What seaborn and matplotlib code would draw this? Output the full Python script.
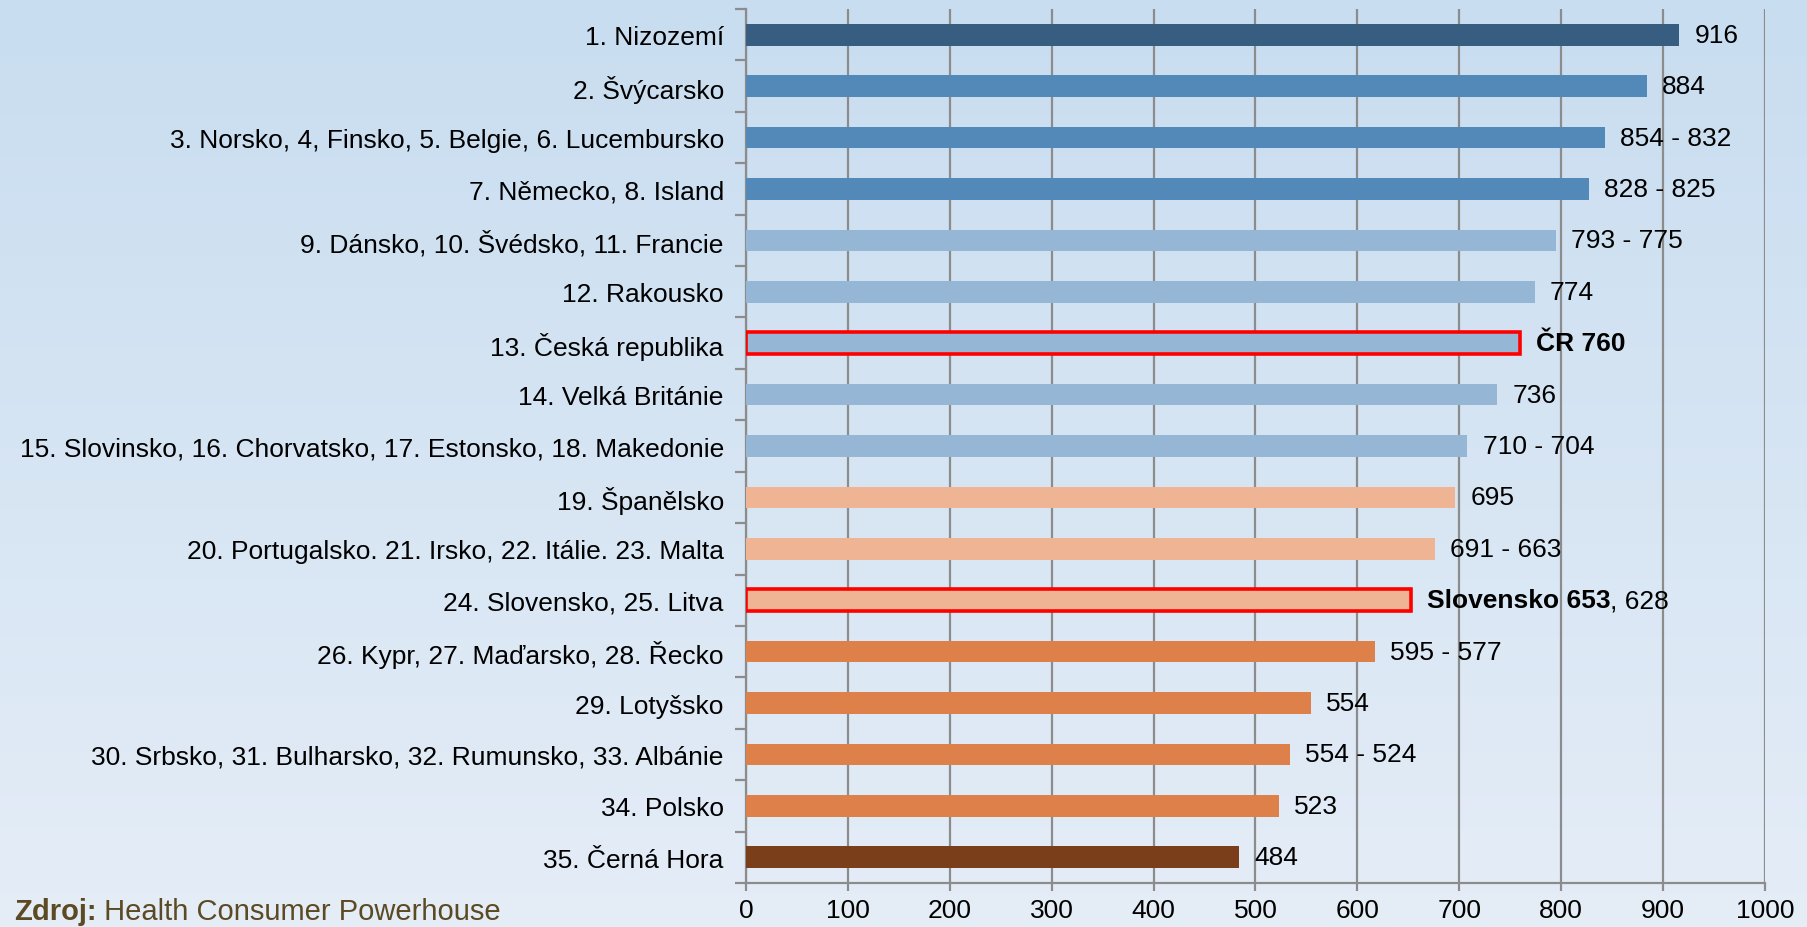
import numpy as np
import matplotlib
matplotlib.use("Agg")
import matplotlib.pyplot as plt
import seaborn as sns

# data
categories = [
    "1. Nizozemí",
    "2. Švýcarsko",
    "3. Norsko, 4, Finsko, 5. Belgie, 6. Lucembursko",
    "7. Německo, 8. Island",
    "9. Dánsko, 10. Švédsko, 11. Francie",
    "12. Rakousko",
    "13. Česká republika",
    "14. Velká Británie",
    "15. Slovinsko, 16. Chorvatsko, 17. Estonsko, 18. Makedonie",
    "19. Španělsko",
    "20. Portugalsko. 21. Irsko, 22. Itálie. 23. Malta",
    "24. Slovensko, 25. Litva",
    "26. Kypr, 27. Maďarsko, 28. Řecko",
    "29. Lotyšsko",
    "30. Srbsko, 31. Bulharsko, 32. Rumunsko, 33. Albánie",
    "34. Polsko",
    "35. Černá Hora",
]
scores = [916, 884, 843, 827, 795, 774, 760, 737, 708, 696, 676, 653, 617, 554, 534, 523, 484]
value_labels = ["916", "884", "854 - 832", "828 - 825", "793 - 775", "774", "ČR 760", "736",
                "710 - 704", "695", "691 - 663", "Slovensko 653", "595 - 577", "554",
                "554 - 524", "523", "484"]
bar_colors = ["#375e80", "#5389b8", "#5389b8", "#5389b8", "#95b6d4", "#95b6d4", "#95b6d4",
              "#95b6d4", "#95b6d4", "#eeb493", "#eeb493", "#eeb493", "#de8049", "#de8049",
              "#de8049", "#de8049", "#7a3e1a"]
highlighted = ["13. Česká republika", "24. Slovensko, 25. Litva"]
extra_suffix = {"24. Slovensko, 25. Litva": ", 628"}
x_ticks = [0, 100, 200, 300, 400, 500, 600, 700, 800, 900, 1000]

sns.set_theme(style="white")
plt.rcParams["font.family"] = ["Liberation Sans", "DejaVu Sans"]
FS = 19

fig = plt.figure(figsize=(18.08, 9.28), dpi=100)

# background gradient
bg = fig.add_axes([0, 0, 1, 1], zorder=-10)
top_c = np.array([200, 221, 240]) / 255
bot_c = np.array([229, 237, 247]) / 255
t = np.linspace(0, 1, 256)[:, None]
grad = (top_c[None, :] * (1 - t) + bot_c[None, :] * t)[:, None, :]
bg.imshow(grad, aspect="auto", extent=[0, 1, 0, 1])
bg.axis("off")

ax = fig.add_axes([746 / 1808, 1 - 884 / 928, (1765 - 746) / 1808, (884 - 10) / 928])
ax.set_facecolor("none")

sns.barplot(x=scores, y=categories, hue=categories, palette=bar_colors, legend=False,
            orient="h", width=0.42, ax=ax, zorder=3, saturation=1, linewidth=0)

for patch, cat in zip(ax.patches, categories):
    if cat in highlighted:
        patch.set_edgecolor("#ff0000")
        patch.set_linewidth(2.6)
    else:
        patch.set_linewidth(0)

for i, (cat, val, lab) in enumerate(zip(categories, scores, value_labels)):
    bold = cat in highlighted
    txt = ax.annotate(lab, xy=(val, i), xytext=(11, 0), textcoords="offset points",
                      va="center", ha="left", fontsize=FS,
                      fontweight="bold" if bold else "normal", color="black", zorder=5)
    if cat in extra_suffix:
        ax.annotate(extra_suffix[cat], xy=(1, 0.5), xycoords=txt, va="center", ha="left",
                    fontsize=FS, color="black", zorder=5)

ax.set_xlim(0, 1000)
ax.set_ylim(len(categories) - 0.5, -0.5)
ax.set_xticks(x_ticks)
ax.set_xticklabels([str(v) for v in x_ticks])
ax.xaxis.grid(True, color="#8c8c8c", linewidth=1.6, zorder=0)
ax.set_axisbelow(True)
ax.set_xlabel("")
ax.set_ylabel("")

for s in ["top", "right"]:
    ax.spines[s].set_visible(False)
for s in ["left", "bottom"]:
    ax.spines[s].set_color("#8c8c8c")
    ax.spines[s].set_linewidth(1.6)

ax.tick_params(axis="x", direction="out", length=6, width=1.6, color="#8c8c8c",
               labelsize=FS, labelcolor="black", pad=5, bottom=True)
ax.tick_params(axis="y", which="major", length=0, labelsize=FS, labelcolor="black",
               pad=16, left=False)
ax.set_yticks(np.arange(-0.5, len(categories), 1), minor=True)
ax.tick_params(axis="y", which="minor", direction="out", length=8, width=1.6,
               color="#8c8c8c", left=True)

src = fig.text(14 / 1808, 1 - 912 / 928, "Zdroj:", fontsize=21, fontweight="bold",
               color="#5b4a24", va="center", ha="left")
ax.annotate(" Health Consumer Powerhouse", xy=(1, 0.5), xycoords=src, va="center",
            ha="left", fontsize=21, color="#5b4a24", annotation_clip=False)

fig.savefig("out.png", dpi=100)
